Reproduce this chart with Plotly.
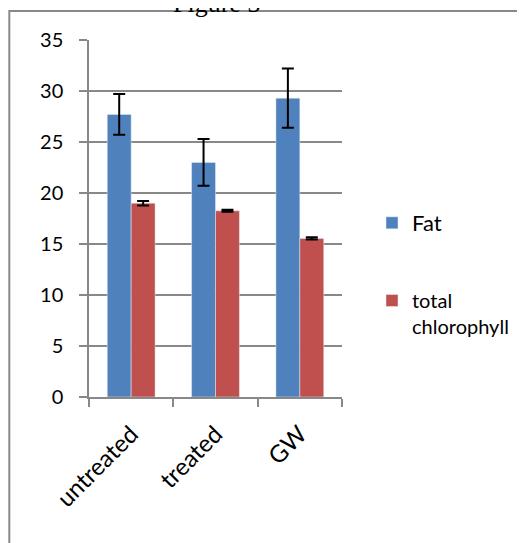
import plotly.graph_objects as go

categories = ["untreated", "treated", "GW"]
fat = [27.7, 23.0, 29.3]
fat_err = [2.0, 2.3, 2.9]
chloro = [19.0, 18.25, 15.55]
chloro_err = [0.22, 0.1, 0.1]

BLUE = "#4F81BD"
RED = "#C0504D"
GRID = "#888888"
FONT = "Lato"

fig = go.Figure()
fig.add_trace(go.Bar(
    x=categories, y=fat, name="Fat", marker_color=BLUE,
    error_y=dict(type="data", array=fat_err, color="black", thickness=2, width=6),
    legend="legend",
))
fig.add_trace(go.Bar(
    x=categories, y=chloro, name="total<br>chlorophyll", marker_color=RED,
    error_y=dict(type="data", array=chloro_err, color="black", thickness=2, width=6),
    legend="legend2",
))

# page body has an 8px margin, so the figure is offset by 8px
OFF = 8
W, H = 525 - OFF, 543 - OFF
# plot area in screen pixels: x 89..343, y 40..397
L = 89 - OFF
T = 40 - OFF
R = W - (343 - OFF)
B = H - (397 - OFF)
pw, ph = W - L - R, H - T - B

def px(x):  # screen x -> paper
    return (x - OFF - L) / pw

def py(y):  # screen y -> paper
    return (H - B - (y - OFF)) / ph

fig.update_layout(
    width=W, height=H,
    margin=dict(l=L, r=R, t=T, b=B, pad=0),
    paper_bgcolor="white", plot_bgcolor="white",
    barmode="group", bargap=0.433, bargroupgap=0,
    font=dict(family=FONT, color="black", size=20),
    xaxis=dict(
        type="category", tickson="boundaries", ticks="outside", ticklen=8,
        tickwidth=1.5, tickcolor=GRID, showline=True, linecolor=GRID, linewidth=1.5,
        tickangle=-45, tickfont=dict(size=24), showgrid=False, ticklabelstandoff=12,
    ),
    yaxis=dict(
        range=[0, 35], dtick=5, ticks="outside", ticklen=8, tickwidth=1.5,
        tickcolor=GRID, showline=True, linecolor=GRID, linewidth=1.5,
        showgrid=True, gridcolor=GRID, gridwidth=1.5, zeroline=False,
        tickfont=dict(size=20), ticklabelstandoff=12,
    ),
    legend=dict(x=px(372), y=py(202), xanchor="left", yanchor="top",
                font=dict(size=22, family=FONT), bgcolor="rgba(0,0,0,0)"),
    legend2=dict(x=px(372), y=py(281), xanchor="left", yanchor="top", valign="top",
                 font=dict(size=20, family=FONT), bgcolor="rgba(0,0,0,0)"),
    showlegend=True,
    shapes=[dict(type="rect", xref="paper", yref="paper",
                 x0=px(9), x1=px(560), y0=py(580), y1=py(11),
                 line=dict(color=GRID, width=2), fillcolor="rgba(0,0,0,0)", layer="below")],
    annotations=[dict(text="Figure 3", xref="paper", yref="paper",
                      x=px(217), y=py(20), xanchor="center", yanchor="bottom",
                      showarrow=False,
                      font=dict(family="Liberation Serif", size=26, color="black"))],
)

fig.write_html("out.html")
